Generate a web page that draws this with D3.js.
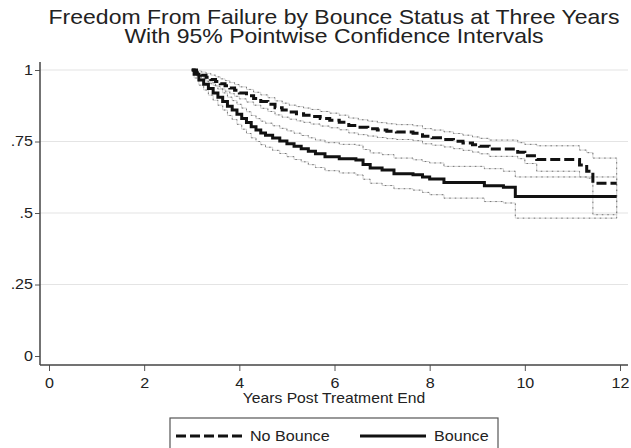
<!DOCTYPE html>
<html>
<head>
<meta charset="utf-8">
<script src="https://cdn.jsdelivr.net/npm/d3@7"></script>
<style>
    body { margin: 0; background: #fff; }
    text { font-family: "Liberation Sans", Arial, sans-serif; fill: #222; }
</style>
</head>
<body>
<svg id="chart" width="631" height="448"></svg>
<script>
// titles and labels
const titleLines = ['Freedom From Failure by Bounce Status at Three Years', 'With 95% Pointwise Confidence Intervals'];
const xTitle = 'Years Post Treatment End';
const xTicks = [0, 2, 4, 6, 8, 10, 12];
const yTicks = [0, .25, .5, .75, 1];
const yTickLabels = ['0', '.25', '.5', '.75', '1'];
const seriesNames = ['No Bounce', 'Bounce'];

// No Bounce: step times, KM estimate and CI bounds
const noBounceTime = [3, 3.1, 3.2, 3.3, 3.4, 3.5, 3.6, 3.7, 3.8, 3.9, 4.0, 4.15, 4.3, 4.45, 4.6, 4.75, 4.9, 5.05, 5.2, 5.35,
    5.5, 5.7, 5.9, 6.1, 6.3, 6.5, 6.7, 6.9, 7.1, 7.3, 7.65, 7.85, 8.05, 8.3, 8.5, 8.7, 8.9, 9.05, 9.25, 9.85,
    10.0, 10.25, 11.15, 11.3, 11.43, 11.93];
const noBounceSurv = [1, .99, .982, .975, .967, .96, .952, .945, .937, .929, .92, .91, .9, .89, .88, .868, .86, .853, .847, .842,
    .837, .83, .824, .817, .806, .8, .795, .79, .786, .783, .779, .768, .763, .757, .751, .745, .739, .733, .724, .712,
    .700, .687, .668, .646, .604, .604];
const noBounceUpper = [1, .998, .993, .988, .982, .976, .969, .963, .956, .949, .941, .932, .922, .913, .903, .892, .884, .877, .872, .867,
    .862, .855, .849, .842, .832, .826, .821, .816, .812, .809, .805, .795, .79, .784, .778, .772, .766, .761, .755, .746,
    .74, .735, .72, .711, .692, .692];
const noBounceLower = [1, .98, .969, .961, .952, .943, .934, .926, .917, .908, .899, .888, .877, .866, .855, .843, .835, .828, .822, .817,
    .811, .804, .798, .791, .78, .774, .769, .764, .76, .757, .753, .742, .737, .731, .725, .719, .713, .707, .698, .69,
    .673, .646, .626, .622, .494, .494];

// Bounce
const bounceTime = [3, 3.05, 3.15, 3.25, 3.35, 3.45, 3.55, 3.65, 3.75, 3.85, 3.95, 4.05, 4.15, 4.25, 4.35, 4.45, 4.55, 4.7, 4.85, 5.0,
    5.15, 5.3, 5.45, 5.6, 5.8, 6.1, 6.45, 6.6, 6.75, 7.0, 7.25, 7.65, 7.85, 8.0, 8.3, 9.15, 9.55, 9.8, 11.93];
const bounceSurv = [1, .985, .965, .95, .935, .92, .905, .89, .873, .86, .845, .83, .816, .802, .79, .78, .772, .762, .752, .742,
    .733, .725, .716, .707, .697, .69, .685, .67, .657, .65, .637, .634, .626, .619, .607, .595, .59, .558, .558];
const bounceUpper = [1, .995, .982, .97, .958, .946, .933, .92, .905, .893, .88, .867, .854, .841, .83, .821, .814, .805, .796, .787,
    .779, .771, .763, .755, .746, .74, .737, .722, .71, .704, .692, .686, .68, .675, .663, .655, .646, .626, .626];
const bounceLower = [1, .972, .947, .93, .912, .894, .877, .86, .841, .827, .81, .793, .778, .763, .75, .739, .73, .719, .708, .697,
    .687, .679, .669, .659, .648, .64, .633, .618, .604, .596, .585, .58, .572, .564, .552, .54, .535, .482, .482];

const sx = 1.15; // the picture's text is wider than Arial

const svg = d3.select('#chart');
const x = d3.scaleLinear().domain([0, 12]).range([49, 620]);
const y = d3.scaleLinear().domain([0, 1]).range([356, 70]);
const plot = {left: 40, right: 628, top: 62, bottom: 365};

// title
svg.selectAll('.title')
    .data(titleLines).enter()
    .append('text')
    .attr('class', 'title')
    .attr('transform', (d, i) => 'translate(334,' + (24 + i * 19) + ') scale(' + sx + ',1)')
    .attr('text-anchor', 'middle')
    .style('font-size', '20px')
    .text(d => d);

// gridlines
svg.append('g').selectAll('line')
    .data(yTicks.filter(d => d > 0)).enter()
    .append('line')
    .attr('x1', plot.left).attr('x2', plot.right)
    .attr('y1', d => y(d)).attr('y2', d => y(d))
    .attr('stroke', '#e4e4e4').attr('stroke-width', 1.2);

// axes
const yAxis = d3.axisLeft(y).tickValues(yTicks).tickSize(5).tickPadding(2)
    .tickFormat(d => yTickLabels[yTicks.indexOf(d)]);
const xAxis = d3.axisBottom(x).tickValues(xTicks).tickSize(6).tickPadding(7);

const gy = svg.append('g').attr('transform', 'translate(' + plot.left + ',0)').call(yAxis);
const gx = svg.append('g').attr('transform', 'translate(0,' + plot.bottom + ')').call(xAxis);
[gx, gy].forEach(g => {
    g.select('.domain').remove();
    g.selectAll('line').attr('stroke', '#555');
    g.selectAll('text').style('font-size', '14px').attr('fill', '#333').style('font-family', '"Liberation Sans", Arial, sans-serif');
});
gx.selectAll('text').attr('transform', 'scale(' + sx + ',1)');
gy.selectAll('text').attr('x', -7 / sx).attr('transform', 'scale(' + sx + ',1)');

svg.append('line').attr('x1', plot.left).attr('x2', plot.left).attr('y1', plot.top).attr('y2', plot.bottom)
    .attr('stroke', '#444').attr('stroke-width', 1.5);
svg.append('line').attr('x1', plot.left).attr('x2', plot.right).attr('y1', plot.bottom).attr('y2', plot.bottom)
    .attr('stroke', '#444').attr('stroke-width', 1.5);

svg.append('text')
    .attr('transform', 'translate(334,403) scale(1.12,1)')
    .attr('text-anchor', 'middle')
    .style('font-size', '14px')
    .text(xTitle);

// CI outlines: upper going right, lower coming back, both as stairs
function stairs(times, vals) {
    const pts = [];
    times.forEach((t, i) => {
        if (i > 0) pts.push([t, vals[i - 1]]);
        pts.push([t, vals[i]]);
    });
    return pts;
}
const area = d3.line().x(d => x(d[0])).y(d => y(d[1])).curve(d3.curveLinearClosed);
const bands = [
    stairs(noBounceTime, noBounceUpper).concat(stairs(noBounceTime, noBounceLower).reverse()),
    stairs(bounceTime, bounceUpper).concat(stairs(bounceTime, bounceLower).reverse())
];
const bandG = svg.append('g');
bands.forEach(b => {
    bandG.append('path').attr('d', area(b)).attr('fill', 'none')
        .attr('stroke', '#d2d2d2').attr('stroke-width', 1);
    bandG.append('path').attr('d', area(b)).attr('fill', 'none')
        .attr('stroke', '#777').attr('stroke-width', 1).attr('stroke-dasharray', '1.5,4');
});

// KM curves
const line = d3.line().x(d => x(d[0])).y(d => y(d[1])).curve(d3.curveStepAfter);
const curves = [
    {pts: noBounceTime.map((t, i) => [t, noBounceSurv[i]]), dash: '10,4'},
    {pts: bounceTime.map((t, i) => [t, bounceSurv[i]]), dash: null}
];
svg.append('g').selectAll('path')
    .data(curves).enter()
    .append('path')
    .attr('d', d => line(d.pts))
    .attr('fill', 'none')
    .attr('stroke', '#111')
    .attr('stroke-width', 3)
    .attr('stroke-dasharray', d => d.dash);

// legend
const legend = svg.append('g');
legend.append('rect').attr('x', 170).attr('y', 418).attr('width', 328).attr('height', 40)
    .attr('fill', 'none').attr('stroke', '#555').attr('stroke-width', 1.2);
const items = [
    {name: seriesNames[0], x0: 176, dash: '10,4'},
    {name: seriesNames[1], x0: 360, dash: null}
];
items.forEach(it => {
    legend.append('line').attr('x1', it.x0).attr('x2', it.x0 + 66).attr('y1', 436).attr('y2', 436)
        .attr('stroke', '#111').attr('stroke-width', 3).attr('stroke-dasharray', it.dash);
    legend.append('text')
        .attr('transform', 'translate(' + (it.x0 + 74) + ',441) scale(' + sx + ',1)')
        .style('font-size', '14px')
        .text(it.name);
});
</script>
</body>
</html>
